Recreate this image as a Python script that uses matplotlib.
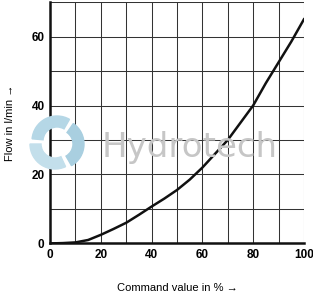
import matplotlib
matplotlib.use("Agg")
import matplotlib.pyplot as plt
from matplotlib.patches import Wedge

command = [0, 5, 10, 15, 20, 25, 30, 35, 40, 45, 50, 55, 60, 65, 70, 75, 80, 85, 90, 95, 100]
flow = [0, 0.1, 0.3, 1.0, 2.5, 4.2, 6.0, 8.3, 10.7, 13.0, 15.5, 18.5, 22.0, 26.0, 30.0, 35.0, 40.0, 46.5, 52.5, 58.5, 65.0]
xticks = [0, 20, 40, 60, 80, 100]
yticks = [0, 20, 40, 60]

plt.rcParams['font.family'] = ['Liberation Sans Narrow', 'Liberation Sans', 'DejaVu Sans']

fig = plt.figure(figsize=(3.13, 2.94), dpi=100)
ax = fig.add_axes([0.16, 0.172, 0.811, 0.821])

# watermark text
fig.text(101.5/313, 1 - 157/294, "Hydrotech", fontsize=24.5, color="#c6c6c6",
         family=["DejaVu Sans"], ha="left", va="baseline", zorder=0)
# watermark logo (swirl of three crescents)
c = (57, 294 - 143)
for start, col, off in [(60, "#b5d7e6", (0, 2)), (180, "#c3dfeb", (-2, -1)), (300, "#a9cfe0", (2, -1))]:
    w = Wedge((c[0] + off[0], c[1] + off[1]), 25, start, start + 115, width=11,
              transform=None, color=col, zorder=0)
    fig.patches.append(w)

ax.set_facecolor("none")
ax.set_xlim(0, 100)
ax.set_ylim(0, 70)
ax.set_xticks(range(0, 101, 10))
ax.set_yticks(range(0, 71, 10))
ax.set_xticklabels([str(v) if v in xticks else "" for v in range(0, 101, 10)],
                   fontweight="bold", fontsize=8.5)
ax.set_yticklabels([str(v) if v in yticks else "" for v in range(0, 71, 10)],
                   fontweight="bold", fontsize=8.5)
ax.tick_params(length=0, pad=4)
ax.grid(True, color="#333333", linewidth=0.75)
ax.set_axisbelow(True)
for s in ["top", "right"]:
    ax.spines[s].set_visible(False)
for s in ["left", "bottom"]:
    ax.spines[s].set_linewidth(1.8)
    ax.spines[s].set_color("#111111")

ax.plot(command, flow, color="#111111", linewidth=1.8, zorder=3)

ax.set_xlabel("Command value in % →", fontsize=8, labelpad=16)
ax.set_ylabel("Flow in l/min →", fontsize=8, labelpad=12)

fig.savefig("out.png", dpi=100)
